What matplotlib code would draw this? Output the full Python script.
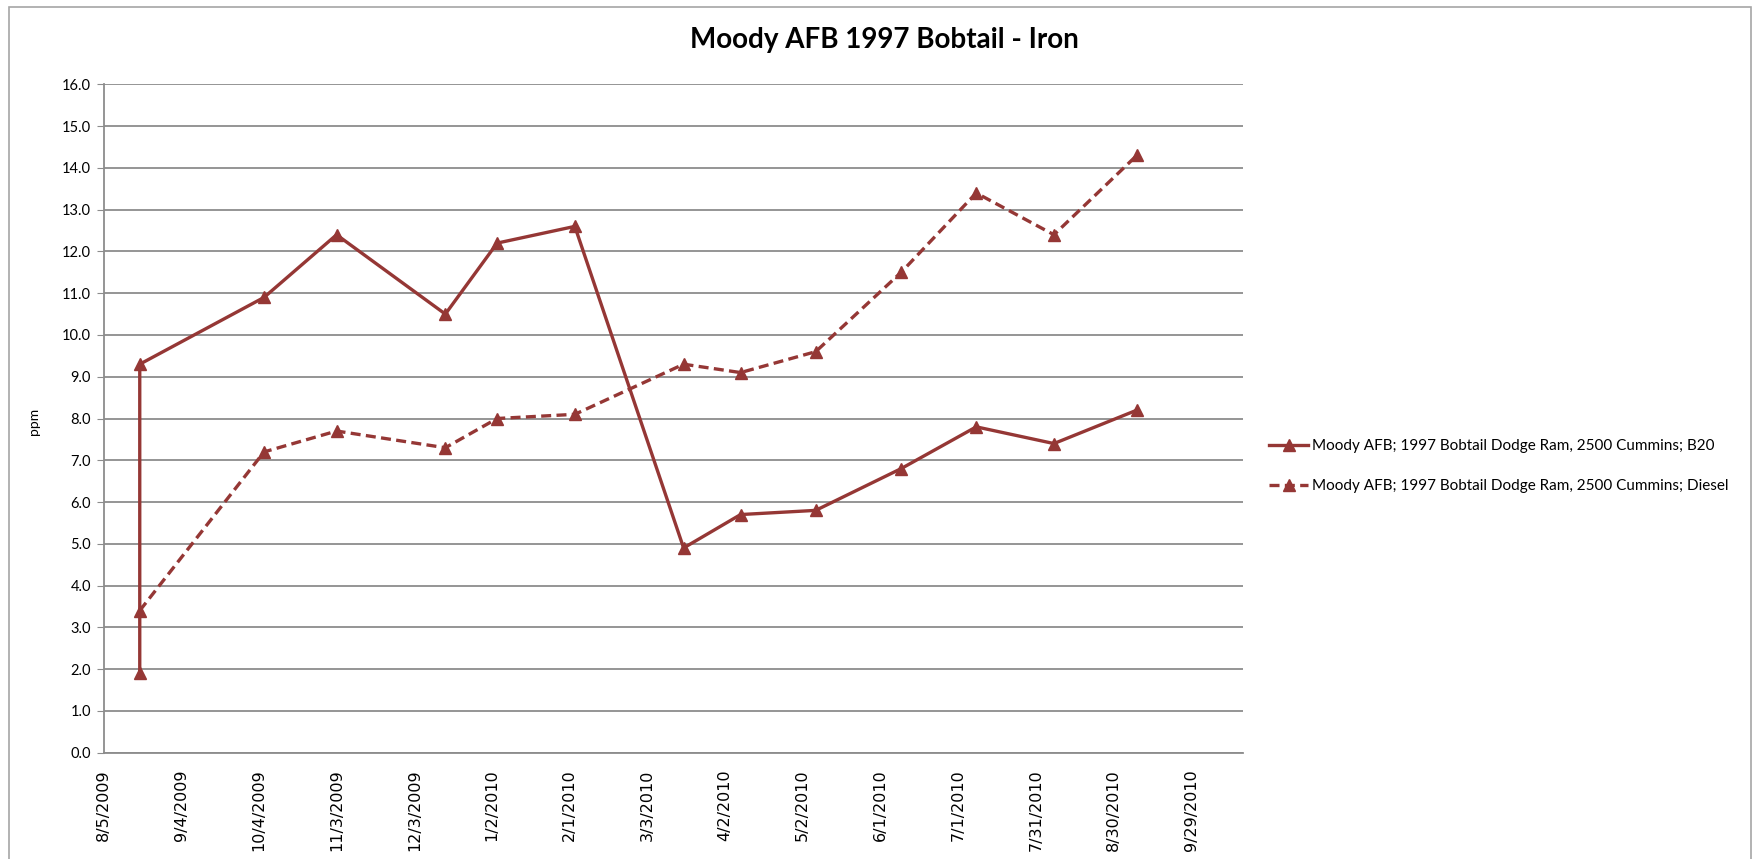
import datetime as dt
import matplotlib
matplotlib.use("Agg")
import matplotlib.pyplot as plt
from matplotlib.patches import Rectangle

# sample dates
b20_dates = ["2009-08-19", "2009-08-19", "2009-10-06", "2009-11-03", "2009-12-15",
             "2010-01-04", "2010-02-03", "2010-03-17", "2010-04-08", "2010-05-07",
             "2010-06-09", "2010-07-08", "2010-08-07", "2010-09-08"]
b20_ppm = [1.9, 9.3, 10.9, 12.4, 10.5, 12.2, 12.6, 4.9, 5.7, 5.8, 6.8, 7.8, 7.4, 8.2]

diesel_dates = ["2009-08-19", "2009-10-06", "2009-11-03", "2009-12-15", "2010-01-04",
                "2010-02-03", "2010-03-17", "2010-04-08", "2010-05-07", "2010-06-09",
                "2010-07-08", "2010-08-07", "2010-09-08"]
diesel_ppm = [3.4, 7.2, 7.7, 7.3, 8.0, 8.1, 9.3, 9.1, 9.6, 11.5, 13.4, 12.4, 14.3]

label_b20 = "Moody AFB; 1997 Bobtail Dodge Ram, 2500 Cummins; B20"
label_diesel = "Moody AFB; 1997 Bobtail Dodge Ram, 2500 Cummins; Diesel"

x_start = dt.date(2009, 8, 5)
x_end = x_start + dt.timedelta(days=440)

RED = "#953735"
GRID = "#8c8c8c"


def to_dates(lst):
    return [dt.datetime.strptime(s, "%Y-%m-%d") for s in lst]


fig = plt.figure(figsize=(17.64, 8.59), dpi=100)
fig.patches.append(Rectangle((9 / 1764, -0.01), 1742 / 1764, 1 - 7 / 859 + 0.01,
                             transform=fig.transFigure, fill=False,
                             edgecolor="#a6a6a6", lw=1.2))

ax = fig.add_axes([103.5 / 1764, (859 - 752.6) / 859, 1139.5 / 1764, 668.2 / 859])

ax.plot(to_dates(b20_dates), b20_ppm, color=RED, lw=2.4, marker="^", ms=8.5,
        label=label_b20)
ax.plot(to_dates(diesel_dates), diesel_ppm, color=RED, lw=2.4, ls=(0, (3, 1.6)),
        marker="^", ms=8.5, label=label_diesel)

ax.set_ylim(0, 16)
ax.set_yticks([i for i in range(17)])
ax.set_yticklabels([f"{i:.1f}" for i in range(17)], fontfamily="Lato", fontsize=10.5)
ax.yaxis.grid(True, color=GRID, lw=1.3)
ax.set_axisbelow(True)

ax.set_xlim(x_start, x_end)
ticks = [x_start + dt.timedelta(days=30 * i) for i in range(15)]
ax.set_xticks(ticks)
ax.set_xticklabels([f"{t.month}/{t.day}/{t.year}" for t in ticks], rotation=90,
                   fontfamily="DejaVu Sans", fontsize=11.5)
ax.tick_params(axis="x", length=0, pad=12)
ax.tick_params(axis="y", length=5, color=GRID, pad=4)

for s in ["top", "right"]:
    ax.spines[s].set_visible(False)
for s in ["left", "bottom"]:
    ax.spines[s].set_color(GRID)
    ax.spines[s].set_linewidth(1.3)

fig.text(34 / 1764, 1 - 421 / 859, "ppm", rotation=90, ha="center", va="center",
         fontfamily="Lato", fontsize=10)
fig.text(884 / 1764, 1 - 40 / 859, "Moody AFB 1997 Bobtail - Iron", ha="center",
         va="center", fontfamily="Lato", fontweight="bold", fontsize=20)

ax.legend(loc="center left", bbox_to_anchor=(1255 / 1764, 1 - 466 / 859),
          bbox_transform=fig.transFigure, frameon=False, handlelength=2.6,
          handletextpad=0.2, labelspacing=1.7,
          prop={"family": "Lato", "size": 11})

fig.savefig("out.png", dpi=100)
